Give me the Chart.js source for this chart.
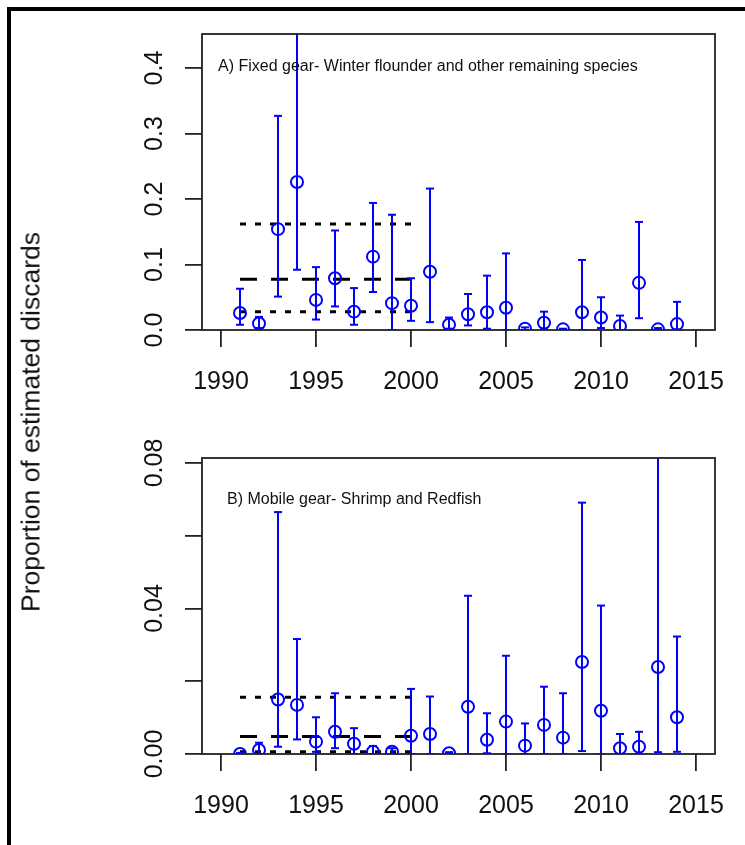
<!DOCTYPE html>
<html>
<head>
<meta charset="utf-8">
<title>Proportion of estimated discards</title>
<script src="https://cdn.jsdelivr.net/npm/chart.js@4.4.1/dist/chart.umd.min.js"></script>
<style>
  html, body { margin: 0; padding: 0; background: #fff; overflow: hidden; }
  #page { position: relative; width: 745px; height: 845px; overflow: hidden; }
  #frame { position: absolute; left: 7px; top: 7px; width: 760px; height: 860px;
           border-left: 4px solid #000; border-top: 4px solid #000; }
  canvas { position: absolute; left: 0; }
  #chartA { top: 0; }
  #chartB { top: 420px; }
  #ylab { position: absolute; left: 31px; top: 422px; transform: translate(-50%, -50%) rotate(-90deg);
          font: 26.5px "Liberation Sans", Arial, sans-serif; color: #111; white-space: nowrap; }
</style>
</head>
<body>
<div id="page">
  <div id="frame"></div>
  <canvas id="chartA" width="745" height="420"></canvas>
  <canvas id="chartB" width="745" height="425"></canvas>
  <div id="ylab">Proportion of estimated discards</div>
</div>
<script>
// years with estimates
const years = [1991, 1992, 1993, 1994, 1995, 1996, 1997, 1998, 1999, 2000, 2001, 2002,
               2003, 2004, 2005, 2006, 2007, 2008, 2009, 2010, 2011, 2012, 2013, 2014];

// A) fixed gear
const fixedEst   = [0.026, 0.010, 0.154, 0.226, 0.046, 0.079, 0.028, 0.112, 0.041, 0.037, 0.089, 0.008,
                    0.024, 0.027, 0.034, 0.002, 0.011, 0.001, 0.027, 0.019, 0.006, 0.072, 0.001, 0.009];
const fixedUpper = [0.063, 0.020, 0.327, 0.480, 0.096, 0.152, 0.064, 0.194, 0.176, 0.079, 0.216, 0.019,
                    0.055, 0.083, 0.117, 0.004, 0.028, 0.002, 0.107, 0.050, 0.022, 0.165, 0.003, 0.043];
const fixedLower = [0.008, 0.003, 0.051, 0.092, 0.016, 0.036, 0.008, 0.058, 0.000, 0.014, 0.012, 0.002,
                    0.007, 0.002, 0.000, 0.000, 0.002, 0.000, 0.000, 0.003, 0.000, 0.018, 0.000, 0.001];

// B) mobile gear
const mobileEst   = [0.0000, 0.0011, 0.0150, 0.0135, 0.0034, 0.0061, 0.0028, 0.0006, 0.0006, 0.0050, 0.0055, 0.0002,
                     0.0130, 0.0039, 0.0089, 0.0023, 0.0080, 0.0045, 0.0253, 0.0119, 0.0016, 0.0020, 0.0239, 0.0101];
const mobileUpper = [0.0003, 0.0031, 0.0665, 0.0316, 0.0101, 0.0167, 0.0071, 0.0022, 0.0016, 0.0179, 0.0158, 0.0005,
                     0.0435, 0.0112, 0.0270, 0.0084, 0.0185, 0.0167, 0.0691, 0.0408, 0.0055, 0.0061, 0.0900, 0.0323];
const mobileLower = [0.0000, 0.0000, 0.0020, 0.0040, 0.0006, 0.0016, 0.0000, 0.0000, 0.0000, 0.0000, 0.0000, 0.0000,
                     0.0000, 0.0002, 0.0000, 0.0000, 0.0000, 0.0000, 0.0008, 0.0000, 0.0000, 0.0000, 0.0005, 0.0006];

// reference period lines (lower, mean, upper) over 1991-2000
const refYears  = [1991, 2000];
const fixedRef  = [0.028, 0.0774, 0.162];
const mobileRef = [0.0006, 0.0048, 0.0156];

// ticks
const xTicks = [1990, 1995, 2000, 2005, 2010, 2015];
const fixedTicks = [0, 0.1, 0.2, 0.3, 0.4];
const mobileTicks = [0, 0.02, 0.04, 0.06, 0.08];
const mobileLabelled = [0, 0.04, 0.08];

const FONT = '"Liberation Sans", Arial, sans-serif';
const BLUE = '#0000ff';

function errorSegments(lo, hi) {
  const pts = [];
  years.forEach((yr, i) => {
    pts.push({x: yr, y: lo[i]}, {x: yr, y: hi[i]}, {x: yr, y: null});
  });
  return pts;
}

function capPoints(lo, hi) {
  const pts = [];
  years.forEach((yr, i) => {
    pts.push({x: yr, y: hi[i]}, {x: yr, y: lo[i]});
  });
  return pts;
}

function refLine(v, dash) {
  return {
    type: 'line',
    data: refYears.map(yr => ({x: yr, y: v})),
    borderColor: '#000',
    borderWidth: 3,
    borderDash: dash,
    borderCapStyle: 'butt',
    pointRadius: 0,
    order: 3
  };
}

// box round the plot area and the panel title
const panelBox = {
  id: 'panelBox',
  afterDraw(chart, args, opts) {
    const {ctx, chartArea: a} = chart;
    ctx.save();
    ctx.strokeStyle = '#222';
    ctx.lineWidth = 1.8;
    ctx.strokeRect(a.left, a.top, a.right - a.left, a.bottom - a.top);
    ctx.font = '16px ' + FONT;
    ctx.fillStyle = '#111';
    ctx.textBaseline = 'middle';
    ctx.fillText(opts.text, a.left + opts.dx, a.top + opts.dy);
    ctx.restore();
  }
};

function axisGrid() {
  return {drawOnChartArea: false, drawTicks: true, tickLength: 17, lineWidth: 1.8, tickWidth: 1.8, tickColor: '#222'};
}

function makeChart(id, est, upper, lower, ref, yMax, yTicks, fmt, yPad, padTop, xHeight, title, dx, dy) {
  return new Chart(document.getElementById(id), {
    type: 'scatter',
    data: {
      datasets: [
        {
          data: years.map((yr, i) => ({x: yr, y: est[i]})),
          pointStyle: 'circle',
          pointRadius: 6,
          pointBorderWidth: 2,
          pointBorderColor: BLUE,
          pointBackgroundColor: 'rgba(0,0,0,0)',
          order: 0
        },
        {
          data: capPoints(lower, upper),
          pointStyle: 'line',
          pointRadius: 4,
          pointBorderWidth: 2,
          pointBorderColor: BLUE,
          order: 1
        },
        {
          type: 'line',
          data: errorSegments(lower, upper),
          borderColor: BLUE,
          borderWidth: 2,
          pointRadius: 0,
          spanGaps: false,
          order: 2
        },
        refLine(ref[2], [6, 9]),
        refLine(ref[1], [17, 14]),
        refLine(ref[0], [6, 9])
      ]
    },
    options: {
      responsive: false,
      animation: false,
      events: [],
      layout: {padding: {top: padTop, right: 30, left: 0, bottom: 0}},
      plugins: {
        legend: {display: false},
        tooltip: {enabled: false},
        panelBox: {text: title, dx: dx, dy: dy}
      },
      scales: {
        x: {
          type: 'linear', min: 1989, max: 2016,
          afterBuildTicks: s => { s.ticks = xTicks.map(v => ({value: v})); },
          afterFit: s => { s.height = xHeight; },
          border: {display: false},
          grid: axisGrid(),
          ticks: {font: {size: 25, family: FONT}, color: '#111', padding: 20, maxRotation: 0,
                  autoSkip: false, callback: v => String(v)}
        },
        y: {
          type: 'linear', min: 0, max: yMax,
          afterBuildTicks: s => { s.ticks = yTicks.map(v => ({value: v})); },
          afterFit: s => { s.width = 202; },
          border: {display: false},
          grid: axisGrid(),
          ticks: {font: {size: 25, family: FONT}, color: '#111', padding: yPad, minRotation: 90, maxRotation: 90,
                  crossAlign: 'center', autoSkip: false, callback: fmt}
        }
      }
    },
    plugins: [panelBox]
  });
}

makeChart('chartA', fixedEst, fixedUpper, fixedLower, fixedRef, 0.452, fixedTicks,
  v => v.toFixed(1), 12.5, 34, 90,
  'A) Fixed gear- Winter flounder and other remaining species', 16, 33);

makeChart('chartB', mobileEst, mobileUpper, mobileLower, mobileRef, 0.08137, mobileTicks,
  v => mobileLabelled.some(t => Math.abs(t - v) < 1e-9) ? v.toFixed(2) : '', 6, 38, 91,
  'B) Mobile gear- Shrimp and Redfish', 25, 42);
</script>
</body>
</html>
